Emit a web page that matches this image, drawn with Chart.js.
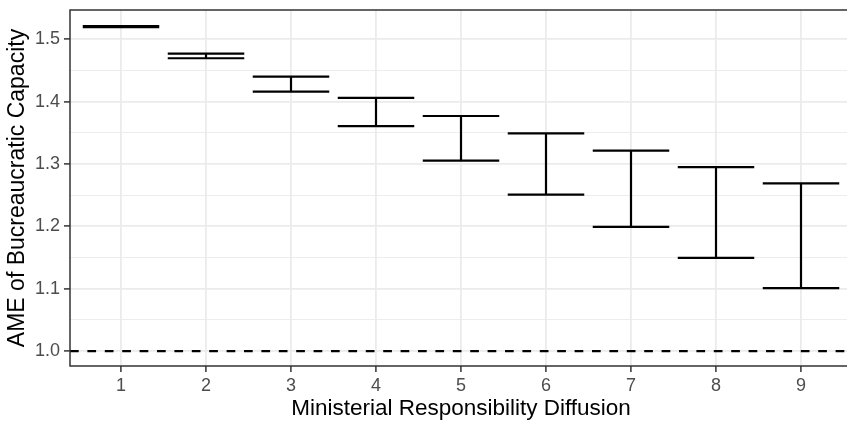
<!DOCTYPE html>
<html>
<head>
<meta charset="utf-8">
<script src="https://cdn.jsdelivr.net/npm/chart.js@4"></script>
<style>
  html, body { margin: 0; padding: 0; background: #fff; overflow: hidden; }
  /* panel runs a little past the right edge in the reference */
  #wrap { width: 847px; height: 422px; overflow: hidden; }
</style>
</head>
<body>
<div id="wrap"><canvas id="chart" width="880" height="422"></canvas></div>
<script>
// data
const categories = [1, 2, 3, 4, 5, 6, 7, 8, 9];
const upper = [1.521, 1.477, 1.440, 1.406, 1.377, 1.349, 1.3215, 1.295, 1.269];
const lower = [1.5195, 1.4696, 1.416, 1.3606, 1.3055, 1.251, 1.199, 1.1495, 1.101];
const refValue = 1.0;

const yMajorTicks = [1.0, 1.1, 1.2, 1.3, 1.4, 1.5];
const yMinorTicks = [1.05, 1.15, 1.25, 1.35, 1.45];

const xTitle = 'Ministerial Responsibility Diffusion';
const yTitle = 'AME of Bucreaucratic Capacity';

const capHalf = 0.45;

// each error bar as three segments, separated by gaps
const barPoints = [];
categories.forEach((c, i) => {
  barPoints.push({ x: c - capHalf, y: upper[i] }, { x: c + capHalf, y: upper[i] }, { x: c, y: null });
  barPoints.push({ x: c, y: upper[i] }, { x: c, y: lower[i] }, { x: c, y: null });
  barPoints.push({ x: c - capHalf, y: lower[i] }, { x: c + capHalf, y: lower[i] }, { x: c, y: null });
});

const isMajor = v => yMajorTicks.some(t => Math.abs(t - v) < 1e-6);

// panel frame: right side sits off the picture, so only three sides
const panelBorder = {
  id: 'panelBorder',
  afterDatasetsDraw(chart) {
    const { ctx, chartArea: a } = chart;
    ctx.save();
    ctx.strokeStyle = '#333333';
    ctx.lineWidth = 1.5;
    ctx.beginPath();
    ctx.moveTo(a.right + 10, a.top);
    ctx.lineTo(a.left, a.top);
    ctx.lineTo(a.left, a.bottom);
    ctx.lineTo(a.right + 10, a.bottom);
    ctx.stroke();
    ctx.restore();
  }
};

new Chart(document.getElementById('chart'), {
  type: 'line',
  data: {
    datasets: [
      {
        data: barPoints,
        borderColor: '#000',
        borderWidth: 2.2,
        pointRadius: 0,
        spanGaps: false,
        tension: 0
      },
      {
        data: [{ x: 0.4, y: refValue }, { x: 9.6, y: refValue }],
        borderColor: '#000',
        borderWidth: 2.2,
        borderDash: [8.7, 8.7],
        pointRadius: 0
      }
    ]
  },
  options: {
    responsive: false,
    animation: false,
    devicePixelRatio: 1,
    layout: { padding: { top: 10, right: 28, left: 0, bottom: 0 } },
    plugins: { legend: { display: false }, tooltip: { enabled: false } },
    scales: {
      x: {
        type: 'linear',
        min: 0.4,
        max: 9.6,
        afterBuildTicks: s => { s.ticks = categories.map(v => ({ value: v })); },
        afterFit: s => { s.height = 56; s.paddingLeft = 0; s.paddingRight = 0; },
        border: { display: false },
        grid: { color: '#EBEBEB', lineWidth: 1.8, tickColor: '#333333', tickLength: 6, tickWidth: 1.5 },
        ticks: { color: '#4D4D4D', font: { family: 'Liberation Sans', size: 18 }, padding: 3, maxRotation: 0 },
        title: {
          display: true,
          text: xTitle,
          color: '#000',
          font: { family: 'Liberation Sans', size: 22.5 },
          padding: { top: 0, bottom: 0 }
        }
      },
      y: {
        min: 0.976,
        max: 1.547,
        afterBuildTicks: s => {
          s.ticks = yMajorTicks.concat(yMinorTicks).sort((a, b) => a - b).map(v => ({ value: v }));
        },
        afterFit: s => { s.width = 70; s.paddingTop = 0; s.paddingBottom = 0; },
        border: { display: false },
        grid: {
          color: '#EBEBEB',
          lineWidth: c => (isMajor(c.tick.value) ? 1.8 : 0.9),
          tickColor: c => (isMajor(c.tick.value) ? '#333333' : 'rgba(0,0,0,0)'),
          tickLength: 6,
          tickWidth: 1.5
        },
        ticks: {
          color: '#4D4D4D',
          font: { family: 'Liberation Sans', size: 18 },
          padding: 4,
          callback: v => (isMajor(v) ? v.toFixed(1) : '')
        },
        title: {
          display: true,
          text: yTitle,
          color: '#000',
          font: { family: 'Liberation Sans', size: 23 },
          padding: { top: 4, bottom: 0 }
        }
      }
    }
  },
  plugins: [panelBorder]
});
</script>
</body>
</html>
